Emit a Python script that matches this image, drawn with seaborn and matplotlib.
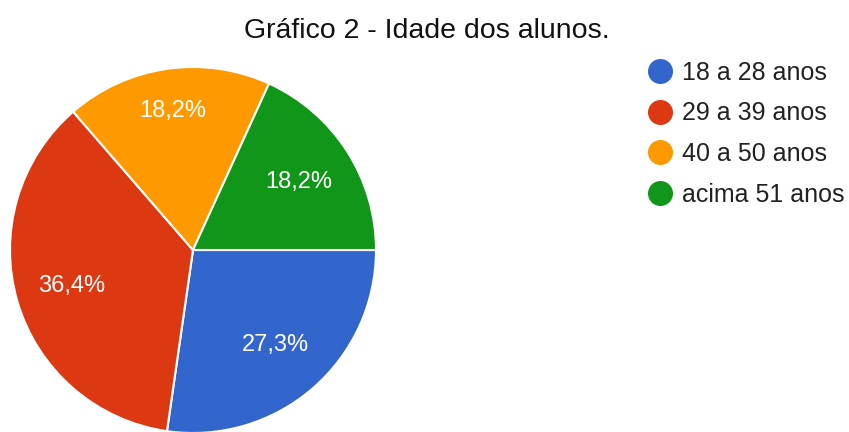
import matplotlib
matplotlib.use("Agg")
import numpy as np
import matplotlib.pyplot as plt
from matplotlib.lines import Line2D
import seaborn as sns

categories = ["18 a 28 anos", "29 a 39 anos", "40 a 50 anos", "acima 51 anos"]
counts = [3, 4, 2, 2]
colors = ["#3366cc", "#dc3912", "#ff9900", "#109618"]
title = "Gráfico 2 - Idade dos alunos."

sns.set_theme(style="white")
plt.rcParams["font.family"] = ["Liberation Sans", "DejaVu Sans"]
palette = sns.color_palette(colors)

W, H = 849, 432
fig = plt.figure(figsize=(W / 100, H / 100), dpi=100)
cx, cy, r = 193, 250, 183
ax = fig.add_axes([(cx - r) / W, (H - cy - r) / H, 2 * r / W, 2 * r / H])
wedges, texts, autotexts = ax.pie(
    counts, colors=palette, startangle=0, counterclock=False, radius=1,
    autopct=lambda p: f"{p:.1f}%".replace(".", ","), pctdistance=0.69,
    wedgeprops=dict(edgecolor="white", linewidth=1.5),
    textprops=dict(color="white", fontsize=17),
)
# the small top slice's label sits a bit further out
w = wedges[2]
ang = np.deg2rad((w.theta1 + w.theta2) / 2)
autotexts[2].set_position((0.77 * np.cos(ang), 0.77 * np.sin(ang)))

ax.set_xlim(-1, 1)
ax.set_ylim(-1, 1)
ax.set_aspect("equal")
ax.axis("off")

fig.text(427 / W, 1 - 31 / H, title, ha="center", va="center", fontsize=20.5, color="#111111")

handles = [Line2D([0], [0], marker="o", linestyle="", markersize=17,
                  markerfacecolor=c, markeredgecolor=c) for c in palette]
fig.legend(handles, categories, loc="upper left", bbox_to_anchor=(647 / W, 1 - 61 / H),
           frameon=False, fontsize=18, labelspacing=0.66, handletextpad=0.42,
           handlelength=1.0, borderaxespad=0, borderpad=0, labelcolor="#222222")

fig.savefig("out.png", dpi=100)
